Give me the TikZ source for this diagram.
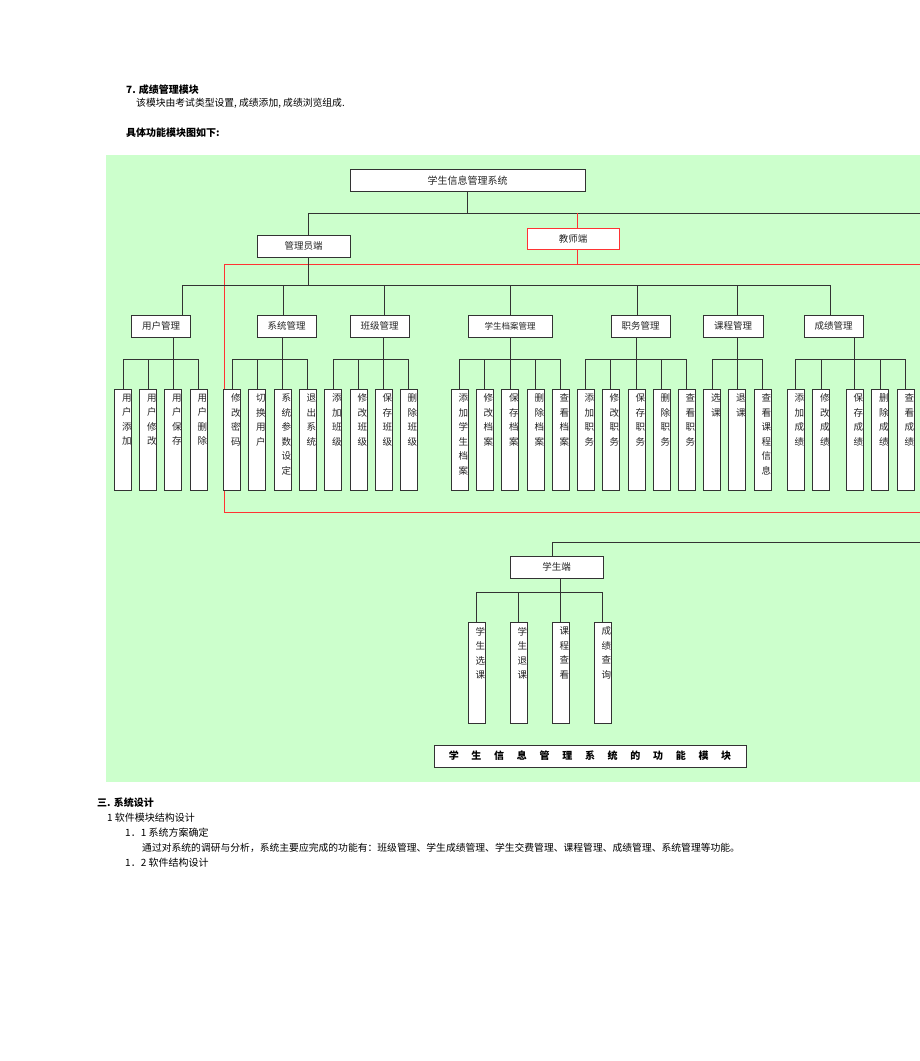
\documentclass[tikz,border=0pt]{standalone}
\usepackage{fontspec}
\setmainfont{Noto Sans CJK SC}
\definecolor{panelgreen}{HTML}{CCFFCC}
\definecolor{edgegray}{HTML}{333333}
\definecolor{teachred}{HTML}{FF3333}
\newcommand{\vtxt}[1]{\parbox[c][101pt][t]{17pt}{\raggedleft\vspace*{4.5pt}#1}}
\newcommand{\tsp}{\hspace{12.7pt}}
\tikzset{
  box/.style={draw=edgegray, fill=white, line width=0.9pt, inner sep=0pt,
    text=black!85, font=\fontsize{9.5}{11}\selectfont},
  mod/.style={box, minimum height=22pt},
  leaf/.style={box, minimum width=17pt, minimum height=101pt, anchor=north,
    font=\fontsize{9.5}{14.5}\selectfont},
  link/.style={draw=edgegray, line width=0.9pt},
  redlink/.style={draw=teachred, line width=0.9pt},
  para/.style={anchor=west, inner sep=0pt, font=\fontsize{10}{12}\selectfont},
  bpara/.style={para, font=\bfseries\fontsize{10}{12}\selectfont}
}
\begin{document}
\begin{tikzpicture}[x=1pt, y=-1pt]
  \useasboundingbox (0,0) rectangle (920,1061);
  % text above
  \node[bpara] (h7) at (126,90) {7. 成绩管理模块};
  \node[para, font=\fontsize{9.8}{12}\selectfont] (h7txt) at (136,103) {该模块由考试类型设置, 成绩添加, 成绩浏览组成.};
  \node[bpara] (hfig) at (126,133) {具体功能模块图如下:};
  % panel
  \fill[panelgreen] (106,155) rectangle (921,782);
  \draw[redlink] (224,264) rectangle (930,512);
  % top levels
  \node[mod, minimum width=235pt, font=\fontsize{10}{12}\selectfont] (root) at (467.5,180.5) {学生信息管理系统};
  \node[mod, minimum width=93pt] (admin) at (303.5,246) {管理员端};
  \node[mod, minimum width=92pt, minimum height=21pt, draw=teachred] (teacher) at (573,238.5) {教师端};
  \node[mod, minimum width=93pt] (student) at (556.5,567) {学生端};
  % modules
  \node[mod, minimum width=59pt] (yhgl) at (161,326) {用户管理};
  \node[mod, minimum width=59pt] (xtgl) at (286.5,326) {系统管理};
  \node[mod, minimum width=59pt] (bjgl) at (379.5,326) {班级管理};
  \node[mod, minimum width=84pt, font=\fontsize{8.5}{10}\selectfont] (dagl) at (510,326) {学生档案管理};
  \node[mod, minimum width=59pt] (zwgl) at (640.5,326) {职务管理};
  \node[mod, minimum width=60pt] (kcgl) at (733,326) {课程管理};
  \node[mod, minimum width=59pt] (cjgl) at (833.5,326) {成绩管理};
  % leaves
  \node[leaf] (yh1) at (123,389) {\vtxt{用\\户\\添\\加}};
  \node[leaf] (yh2) at (148,389) {\vtxt{用\\户\\修\\改}};
  \node[leaf] (yh3) at (173,389) {\vtxt{用\\户\\保\\存}};
  \node[leaf] (yh4) at (198.5,389) {\vtxt{用\\户\\删\\除}};
  \node[leaf] (xt1) at (232,389) {\vtxt{修\\改\\密\\码}};
  \node[leaf] (xt2) at (257,389) {\vtxt{切\\换\\用\\户}};
  \node[leaf] (xt3) at (282.5,389) {\vtxt{系\\统\\参\\数\\设\\定}};
  \node[leaf] (xt4) at (307.5,389) {\vtxt{退\\出\\系\\统}};
  \node[leaf] (bj1) at (333,389) {\vtxt{添\\加\\班\\级}};
  \node[leaf] (bj2) at (358.5,389) {\vtxt{修\\改\\班\\级}};
  \node[leaf] (bj3) at (383.5,389) {\vtxt{保\\存\\班\\级}};
  \node[leaf] (bj4) at (408.5,389) {\vtxt{删\\除\\班\\级}};
  \node[leaf] (da1) at (459.5,389) {\vtxt{添\\加\\学\\生\\档\\案}};
  \node[leaf] (da2) at (484.5,389) {\vtxt{修\\改\\档\\案}};
  \node[leaf] (da3) at (510,389) {\vtxt{保\\存\\档\\案}};
  \node[leaf] (da4) at (535.5,389) {\vtxt{删\\除\\档\\案}};
  \node[leaf] (da5) at (560.5,389) {\vtxt{查\\看\\档\\案}};
  \node[leaf] (zw1) at (585.5,389) {\vtxt{添\\加\\职\\务}};
  \node[leaf] (zw2) at (610.5,389) {\vtxt{修\\改\\职\\务}};
  \node[leaf] (zw3) at (636.5,389) {\vtxt{保\\存\\职\\务}};
  \node[leaf] (zw4) at (661.5,389) {\vtxt{删\\除\\职\\务}};
  \node[leaf] (zw5) at (686.5,389) {\vtxt{查\\看\\职\\务}};
  \node[leaf] (kc1) at (712,389) {\vtxt{选\\课}};
  \node[leaf] (kc2) at (737,389) {\vtxt{退\\课}};
  \node[leaf] (kc3) at (762.5,389) {\vtxt{查\\看\\课\\程\\信\\息}};
  \node[leaf] (cj1) at (795.5,389) {\vtxt{添\\加\\成\\绩}};
  \node[leaf] (cj2) at (821,389) {\vtxt{修\\改\\成\\绩}};
  \node[leaf] (cj3) at (854.5,389) {\vtxt{保\\存\\成\\绩}};
  \node[leaf] (cj4) at (880,389) {\vtxt{删\\除\\成\\绩}};
  \node[leaf] (cj5) at (905.5,389) {\vtxt{查\\看\\成\\绩}};
  \node[leaf] (st1) at (476.5,622) {\vtxt{学\\生\\选\\课}};
  \node[leaf] (st2) at (518.5,622) {\vtxt{学\\生\\退\\课}};
  \node[leaf] (st3) at (560.5,622) {\vtxt{课\\程\\查\\看}};
  \node[leaf] (st4) at (602.5,622) {\vtxt{成\\绩\\查\\询}};
  % connectors
  \coordinate (topend) at (921,213);
  \coordinate (stuend) at (921,542);
  \draw[link] (root.south) -- (root.south |- topend);
  \draw[link] ([xshift=4.5pt]admin.north) |- (topend);
  \draw[redlink] ([xshift=4pt]teacher.north) -- ++(0,-15);
  \draw[redlink] ([xshift=4pt]teacher.south) -- ++(0,15);
  \draw[link] ([xshift=4.5pt]admin.south) -- ++(0,29);
  \draw[link] ([xshift=21pt]yhgl.north) -- ++(0,-29) -| ([xshift=-3.5pt]cjgl.north);
  \draw[link] ([xshift=-3.5pt]xtgl.north) -- ++(0,-29);
  \draw[link] ([xshift=4.5pt]bjgl.north) -- ++(0,-29);
  \draw[link] (dagl.north) -- ++(0,-29);
  \draw[link] ([xshift=-3.5pt]zwgl.north) -- ++(0,-29);
  \draw[link] ([xshift=4pt]kcgl.north) -- ++(0,-29);
  \draw[link] (yh1.north) -- ++(0,-30) -| (yh4.north);
  \draw[link] (yh2.north) -- ++(0,-30);
  \draw[link] (yh3.north) -- (yh3 |- yhgl.south);
  \draw[link] (xt1.north) -- ++(0,-30) -| (xt4.north);
  \draw[link] (xt2.north) -- ++(0,-30);
  \draw[link] (xt3.north) -- (xt3 |- xtgl.south);
  \draw[link] (bj1.north) -- ++(0,-30) -| (bj4.north);
  \draw[link] (bj2.north) -- ++(0,-30);
  \draw[link] (bj3.north) -- (bj3 |- bjgl.south);
  \draw[link] (da1.north) -- ++(0,-30) -| (da5.north);
  \draw[link] (da2.north) -- ++(0,-30);
  \draw[link] (da4.north) -- ++(0,-30);
  \draw[link] (da3.north) -- (da3 |- dagl.south);
  \draw[link] (zw1.north) -- ++(0,-30) -| (zw5.north);
  \draw[link] (zw2.north) -- ++(0,-30);
  \draw[link] (zw4.north) -- ++(0,-30);
  \draw[link] (zw3.north) -- (zw3 |- zwgl.south);
  \draw[link] (kc1.north) -- ++(0,-30) -| (kc3.north);
  \draw[link] (kc2.north) -- (kc2 |- kcgl.south);
  \draw[link] (cj1.north) -- ++(0,-30) -| (cj5.north);
  \draw[link] (cj2.north) -- ++(0,-30);
  \draw[link] (cj4.north) -- ++(0,-30);
  \draw[link] (cj3.north) -- (cj3 |- cjgl.south);
  \draw[link] ([xshift=-4.5pt]student.north) |- (stuend);
  \draw[link] (st1.north) -- ++(0,-30) -| (st4.north);
  \draw[link] (st2.north) -- ++(0,-30);
  \draw[link] (st3.north) -- (st3 |- student.south);
  % caption box
  \node[mod, minimum width=312pt, text=black, font=\bfseries\fontsize{10}{12}\selectfont] (title) at (590,756)
    {学\tsp 生\tsp 信\tsp 息\tsp 管\tsp 理\tsp 系\tsp 统\tsp 的\tsp 功\tsp 能\tsp 模\tsp 块};
  % text below
  \node[bpara] (s3) at (97,803) {三. 系统设计};
  \node[para] (s31) at (107,818) {1 软件模块结构设计};
  \node[para] (s311) at (125,833) {1．1 系统方案确定};
  \node[para, font=\fontsize{9.8}{12}\selectfont] (s311txt) at (142,848) {通过对系统的调研与分析，系统主要应完成的功能有：班级管理、学生成绩管理、学生交费管理、课程管理、成绩管理、系统管理等功能。};
  \node[para] (s312) at (125,863) {1．2 软件结构设计};
\end{tikzpicture}
\end{document}
